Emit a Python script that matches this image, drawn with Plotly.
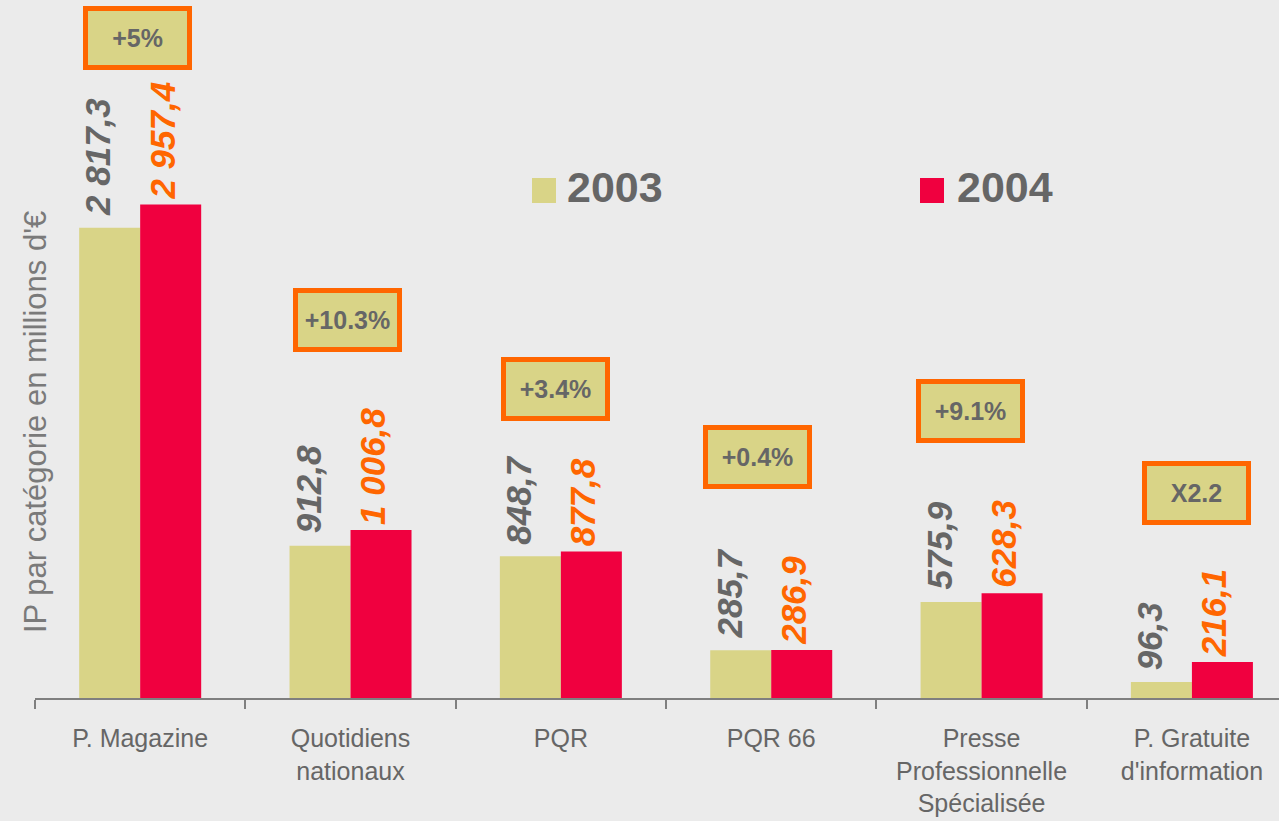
import plotly.graph_objects as go

categories = ["P. Magazine", "Quotidiens<br>nationaux", "PQR", "PQR 66",
              "Presse<br>Professionnelle<br>Spécialisée", "P. Gratuite<br>d'information"]
values_2003 = [2817.3, 912.8, 848.7, 285.7, 575.9, 96.3]
values_2004 = [2957.4, 1006.8, 877.8, 286.9, 628.3, 216.1]
labels_2003 = ["2 817,3", "912,8", "848,7", "285,7", "575,9", "96,3"]
labels_2004 = ["2 957,4", "1 006,8", "877,8", "286,9", "628,3", "216,1"]
growth_labels = ["+5%", "+10.3%", "+3.4%", "+0.4%", "+9.1%", "X2.2"]
growth_y = [3957, 2265, 1851, 1444, 1720, 1231]
growth_xshift = [-3, -3, -5, -14, -11, 5]

C2003 = "#D9D487"
C2004 = "#F0003F"
GRAY = "#666666"
ORANGE = "#FF6600"
BG = "#EBEBEB"
FONT = "Liberation Sans, Arial, sans-serif"

W, H = 1279, 821
ML, MR, MT, MB = 35, 0, 0, 123
PW, PH = W - ML - MR, H - MT - MB
YMAX = PH / 0.1669

fig = go.Figure()
fig.add_trace(go.Bar(x=categories, y=values_2003, name="2003", marker_color=C2003,
                     marker_line_width=0, showlegend=False))
fig.add_trace(go.Bar(x=categories, y=values_2004, name="2004", marker_color=C2004,
                     marker_line_width=0, showlegend=False))

annotations = []
for c, v, t in zip(categories, values_2003, labels_2003):
    annotations.append(dict(x=c, y=v, xref="x", yref="y", text=f"<b><i>{t}</i></b>",
                            textangle=-90, showarrow=False, xanchor="center", yanchor="bottom",
                            xshift=-42, yshift=10, font=dict(family=FONT, size=35, color=GRAY)))
for c, v, t in zip(categories, values_2004, labels_2004):
    annotations.append(dict(x=c, y=v, xref="x", yref="y", text=f"<b><i>{t}</i></b>",
                            textangle=-90, showarrow=False, xanchor="center", yanchor="bottom",
                            xshift=22, yshift=3, font=dict(family=FONT, size=35, color=ORANGE)))
for c, g, gy, xs in zip(categories, growth_labels, growth_y, growth_xshift):
    annotations.append(dict(x=c, y=gy, xref="x", yref="y", text=f"<b>{g}</b>",
                            showarrow=False, xanchor="center", yanchor="middle", xshift=xs,
                            width=99, height=54, borderpad=0, borderwidth=5,
                            bordercolor=ORANGE, bgcolor=C2003,
                            font=dict(family=FONT, size=25, color=GRAY)))

def px_x(p):
    return (p - ML) / PW

def px_y(p):
    return (MT + PH - p) / PH

# legend
shapes = []
for x0, col, txt, tx in [(532, C2003, "2003", 565), (920, C2004, "2004", 955)]:
    shapes.append(dict(type="rect", xref="paper", yref="paper",
                       x0=px_x(x0), x1=px_x(x0 + 24), y0=px_y(203), y1=px_y(178),
                       fillcolor=col, line_width=0))
    annotations.append(dict(x=px_x(tx), y=px_y(187), xref="paper", yref="paper",
                            text=f"<b>{txt}</b>", showarrow=False, xanchor="left",
                            yanchor="middle", font=dict(family=FONT, size=43, color=GRAY)))

annotations.append(dict(x=px_x(35), y=px_y(422), xref="paper", yref="paper",
                        text="IP par catégorie en millions d'€", textangle=-90,
                        showarrow=False, xanchor="center", yanchor="middle",
                        font=dict(family=FONT, size=31, color="#7A7A7A")))

fig.update_layout(
    width=W, height=H,
    margin=dict(l=ML, r=MR, t=MT, b=MB, pad=0, autoexpand=False),
    paper_bgcolor=BG, plot_bgcolor=BG,
    barmode="group", bargap=0.42, bargroupgap=0,
    annotations=annotations, shapes=shapes,
    xaxis=dict(range=[-0.5, 5.414], showline=True, linecolor="#7F7F7F", linewidth=2,
               ticks="outside", tickson="boundaries", ticklen=9, tickwidth=2,
               tickcolor="#7F7F7F", showgrid=False, zeroline=False, automargin=False,
               tickfont=dict(family=FONT, size=25, color=GRAY), ticklabelstandoff=17),
    yaxis=dict(range=[0, YMAX], showticklabels=False, showgrid=False, zeroline=False,
               showline=False, ticks="", automargin=False),
)

fig.write_html("out.html", config={"displayModeBar": False},
               post_script="document.body.style.margin='0';document.body.style.background='#EBEBEB';")
